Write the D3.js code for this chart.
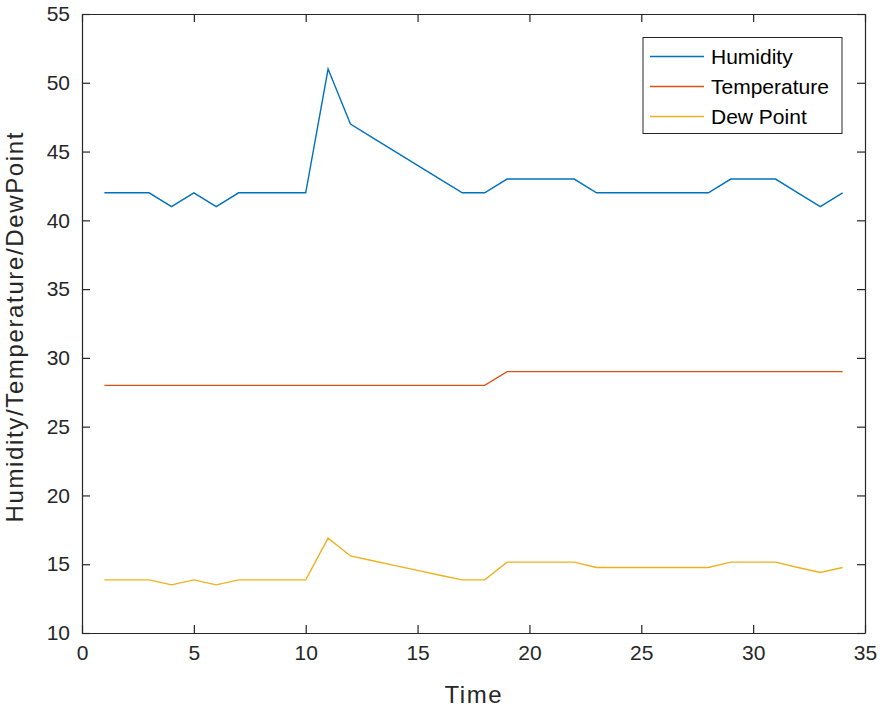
<!DOCTYPE html>
<html><head><meta charset="utf-8">
<script src="https://cdn.jsdelivr.net/npm/d3@7"></script>
<style>body{margin:0;background:#fff;} svg{display:block;font-family:"Liberation Sans",Arial,sans-serif;}</style>
</head><body>
<svg id="chart" width="880" height="708"></svg>
<script>
const time = d3.range(1, 35);
const humidity = [42,42,42,41,42,41,42,42,42,42,51,47,46,45,44,43,42,42,43,43,43,43,42,42,42,42,42,42,43,43,43,42,41,42];
const temperature = [28,28,28,28,28,28,28,28,28,28,28,28,28,28,28,28,28,28,29,29,29,29,29,29,29,29,29,29,29,29,29,29,29,29];
const dewPoint = [13.86,13.86,13.86,13.5,13.86,13.5,13.86,13.86,13.86,13.86,16.9,15.6,15.25,14.9,14.55,14.2,13.86,13.86,15.15,15.15,15.15,15.15,14.76,14.76,14.76,14.76,14.76,14.76,15.15,15.15,15.15,14.76,14.4,14.76];
const seriesNames = ["Humidity","Temperature","Dew Point"];
const seriesColors = ["#0072BD","#D95319","#EDB120"];
const xTicks = [0,5,10,15,20,25,30,35];
const yTicks = [10,15,20,25,30,35,40,45,50,55];

const svg = d3.select("#chart");
const L = 82, R = 865, T = 14, B = 633;
const x = d3.scaleLinear().domain([0,35]).range([L,R]);
const y = d3.scaleLinear().domain([10,55]).range([B,T]);
const axisColor = "#262626";
const tickFont = 21;

// series lines
const series = [humidity, temperature, dewPoint];
const line = d3.line().x((d,i)=>x(time[i])).y(d=>y(d));
series.forEach((s,k)=>{
  svg.append("path").datum(s).attr("d", line)
    .attr("fill","none").attr("stroke", seriesColors[k]).attr("stroke-width",1.4)
    .attr("stroke-linejoin","miter");
});

// axes
const tl = 8;
const gx = svg.append("g").attr("transform",`translate(0,${B})`)
  .call(d3.axisBottom(x).tickValues(xTicks).tickSizeInner(-tl).tickSizeOuter(0).tickPadding(12));
const gxt = svg.append("g").attr("transform",`translate(0,${T})`)
  .call(d3.axisTop(x).tickValues(xTicks).tickSizeInner(-tl).tickSizeOuter(0).tickFormat(""));
const gy = svg.append("g").attr("transform",`translate(${L},0)`)
  .call(d3.axisLeft(y).tickValues(yTicks).tickSizeInner(-tl).tickSizeOuter(0).tickPadding(12));
const gyr = svg.append("g").attr("transform",`translate(${R},0)`)
  .call(d3.axisRight(y).tickValues(yTicks).tickSizeInner(-tl).tickSizeOuter(0).tickFormat(""));
[gx,gxt,gy,gyr].forEach(g=>{
  g.select(".domain").attr("stroke",axisColor).attr("stroke-width",1.2);
  g.selectAll(".tick line").attr("stroke",axisColor).attr("stroke-width",1.2);
  g.selectAll(".tick text").attr("fill",axisColor).attr("font-size",tickFont).attr("font-family","Liberation Sans, Arial, sans-serif");
});

// axis labels
svg.append("text").attr("x",473).attr("y",703).attr("text-anchor","middle")
  .attr("font-size",24).attr("fill",axisColor).attr("textLength",57).attr("lengthAdjust","spacing").text("Time");
svg.append("text").attr("transform",`translate(23,${(T+B)/2+4}) rotate(-90)`).attr("text-anchor","middle")
  .attr("font-size",24).attr("fill",axisColor).attr("textLength",390).attr("lengthAdjust","spacing").text("Humidity/Temperature/DewPoint");

// legend
const lg = svg.append("g");
lg.append("rect").attr("x",643).attr("y",37.5).attr("width",199).attr("height",96)
  .attr("fill","#fff").attr("stroke",axisColor).attr("stroke-width",1);
const rowY = [56.5, 86.5, 116.5];
seriesNames.forEach((n,k)=>{
  lg.append("line").attr("x1",650).attr("x2",704).attr("y1",rowY[k]).attr("y2",rowY[k])
    .attr("stroke",seriesColors[k]).attr("stroke-width",1.4);
  lg.append("text").attr("x",711).attr("y",rowY[k]).attr("dy","0.35em")
    .attr("font-size",21).attr("fill","#000").text(n);
});
</script>
</body></html>
